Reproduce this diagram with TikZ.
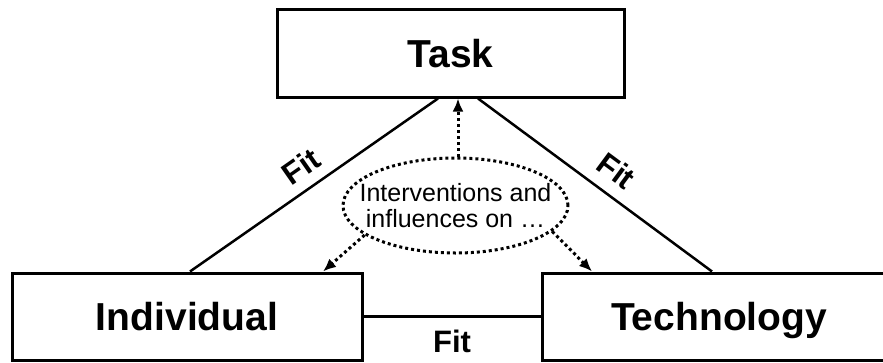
\documentclass[tikz,border=0pt]{standalone}
\usepackage{fontspec}
\setmainfont{Liberation Sans}
\usepackage{tikz}
\usetikzlibrary{arrows.meta,positioning,shapes.geometric}
\usepackage{xcolor}
\definecolor{Ink}{HTML}{000000}
\definecolor{Paper}{HTML}{FFFFFF}
\tikzset{
  entitynode/.style={draw=Ink,fill=Paper,rectangle,line width=3pt,inner sep=0pt,text height=28pt,text depth=0pt,font=\bfseries\fontsize{39}{46}\selectfont},
  fitline/.style={draw=Ink,line width=2.5pt},
  fitlabel/.style={inner sep=0pt,font=\bfseries\fontsize{31}{36}\selectfont},
  influencenode/.style={draw=Ink,ellipse,line width=3pt,dash pattern=on 3pt off 3pt,inner xsep=-18pt,inner ysep=0pt,minimum width=225pt,minimum height=95pt,align=center,font=\fontsize{25}{26}\selectfont},
  influencearrow/.style={-{Latex[length=13pt,width=11pt]},line width=3pt,dash pattern=on 3pt off 3pt,draw=Ink}
}
\begin{document}
\begin{tikzpicture}[x=1pt,y=-1pt]
\useasboundingbox (0,0) rectangle (883,362);
\node[entitynode,minimum width=347pt,minimum height=88pt] (task) at (450.5,53) {Task};
\node[entitynode,minimum width=350pt,minimum height=87pt] (individual) at (187,316.5) {Individual};
\node[entitynode,minimum width=354pt,minimum height=87pt] (technology) at (719,316.5) {Technology};
\node[influencenode] (interv) at (455.5,205.5) {Interventions and\\influences on \ldots};
% fit relations
\draw[fitline] ([xshift=3pt]individual.north) -- node[fitlabel,pos=0.5,sloped,above=10pt] {Fit} ([xshift=-12.5pt]task.south);
\draw[fitline] ([xshift=27.5pt]task.south) -- node[fitlabel,pos=0.53,sloped,above=12pt] {Fit} ([xshift=-7pt]technology.north);
\draw[fitline] (individual.east) -- node[fitlabel,midway,below=12pt] {Fit} (technology.west);
% interventions
\draw[influencearrow] ([xshift=2.5pt]interv.north) -- ([xshift=7.5pt]task.south);
\draw[influencearrow] (interv.198) -- ([xshift=136pt]individual.north);
\draw[influencearrow] (interv.345) -- ([xshift=-127pt]technology.north);
\end{tikzpicture}
\end{document}
